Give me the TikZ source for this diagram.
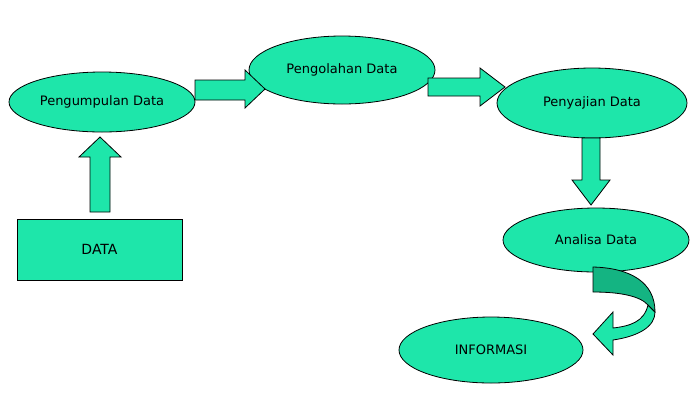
\documentclass[tikz,border=0pt]{standalone}
\usepackage{fontspec}
\setmainfont{DejaVu Sans}
\usetikzlibrary{shapes.geometric}
\definecolor{tq}{RGB}{30,230,170}
\definecolor{tqd}{RGB}{20,180,130}
\tikzset{
 ell/.style={ellipse,draw=black,fill=tq,line width=0.8pt,inner sep=0pt,font=\fontsize{13}{15}\selectfont},
 blk/.style={draw=black,fill=tq,line width=0.8pt,line join=miter}
}
\begin{document}
\begin{tikzpicture}[x=1pt,y=-1pt]
\useasboundingbox (0,0) rectangle (700,400);
\node[ell,minimum width=186,minimum height=60] (pd) at (102,102) {Pengumpulan Data};
\node[ell,minimum width=186,minimum height=68] (po) at (342,70) {Pengolahan Data};
\node[ell,minimum width=190,minimum height=70] (ps) at (592,103) {Penyajian Data};
\node[ell,minimum width=186,minimum height=64] (an) at (596,240) {Analisa Data};
\node[ell,minimum width=184,minimum height=66] (inf) at (491,350) {INFORMASI};
\node[draw=black,fill=tq,line width=0.8pt,minimum width=165,minimum height=61,font=\fontsize{14}{16}\selectfont] (data) at (99.5,249.5) {DATA};
% up arrow
\draw[blk] (90,212) -- (90,157) -- (79,157) -- (100,137) -- (121,157) -- (110,157) -- (110,212) -- cycle;
% right arrow 1
\draw[blk] (195,80) -- (245,80) -- (245,70) -- (265,89) -- (245,108) -- (245,100) -- (195,100) -- cycle;
% right arrow 2
\draw[blk] (428,78) -- (480,78) -- (480,68) -- (505,87) -- (480,106) -- (480,96) -- (428,96) -- cycle;
% down arrow
\draw[blk] (582,138) -- (600,138) -- (600,180) -- (610,180) -- (591,205) -- (572,180) -- (582,180) -- cycle;
% curved arrow
\draw[blk] (648,305) .. controls (644,322) and (630,326) .. (613,328) -- (613,312) -- (593,334) -- (613,355) -- (613,340) .. controls (640,336) and (655,326) .. (655,312) -- cycle;
\draw[blk,fill=tqd] (593,267) .. controls (630,268) and (655,282) .. (655,312) -- (648,305) .. controls (640,296) and (620,292) .. (593,292) -- cycle;
\end{tikzpicture}
\end{document}
